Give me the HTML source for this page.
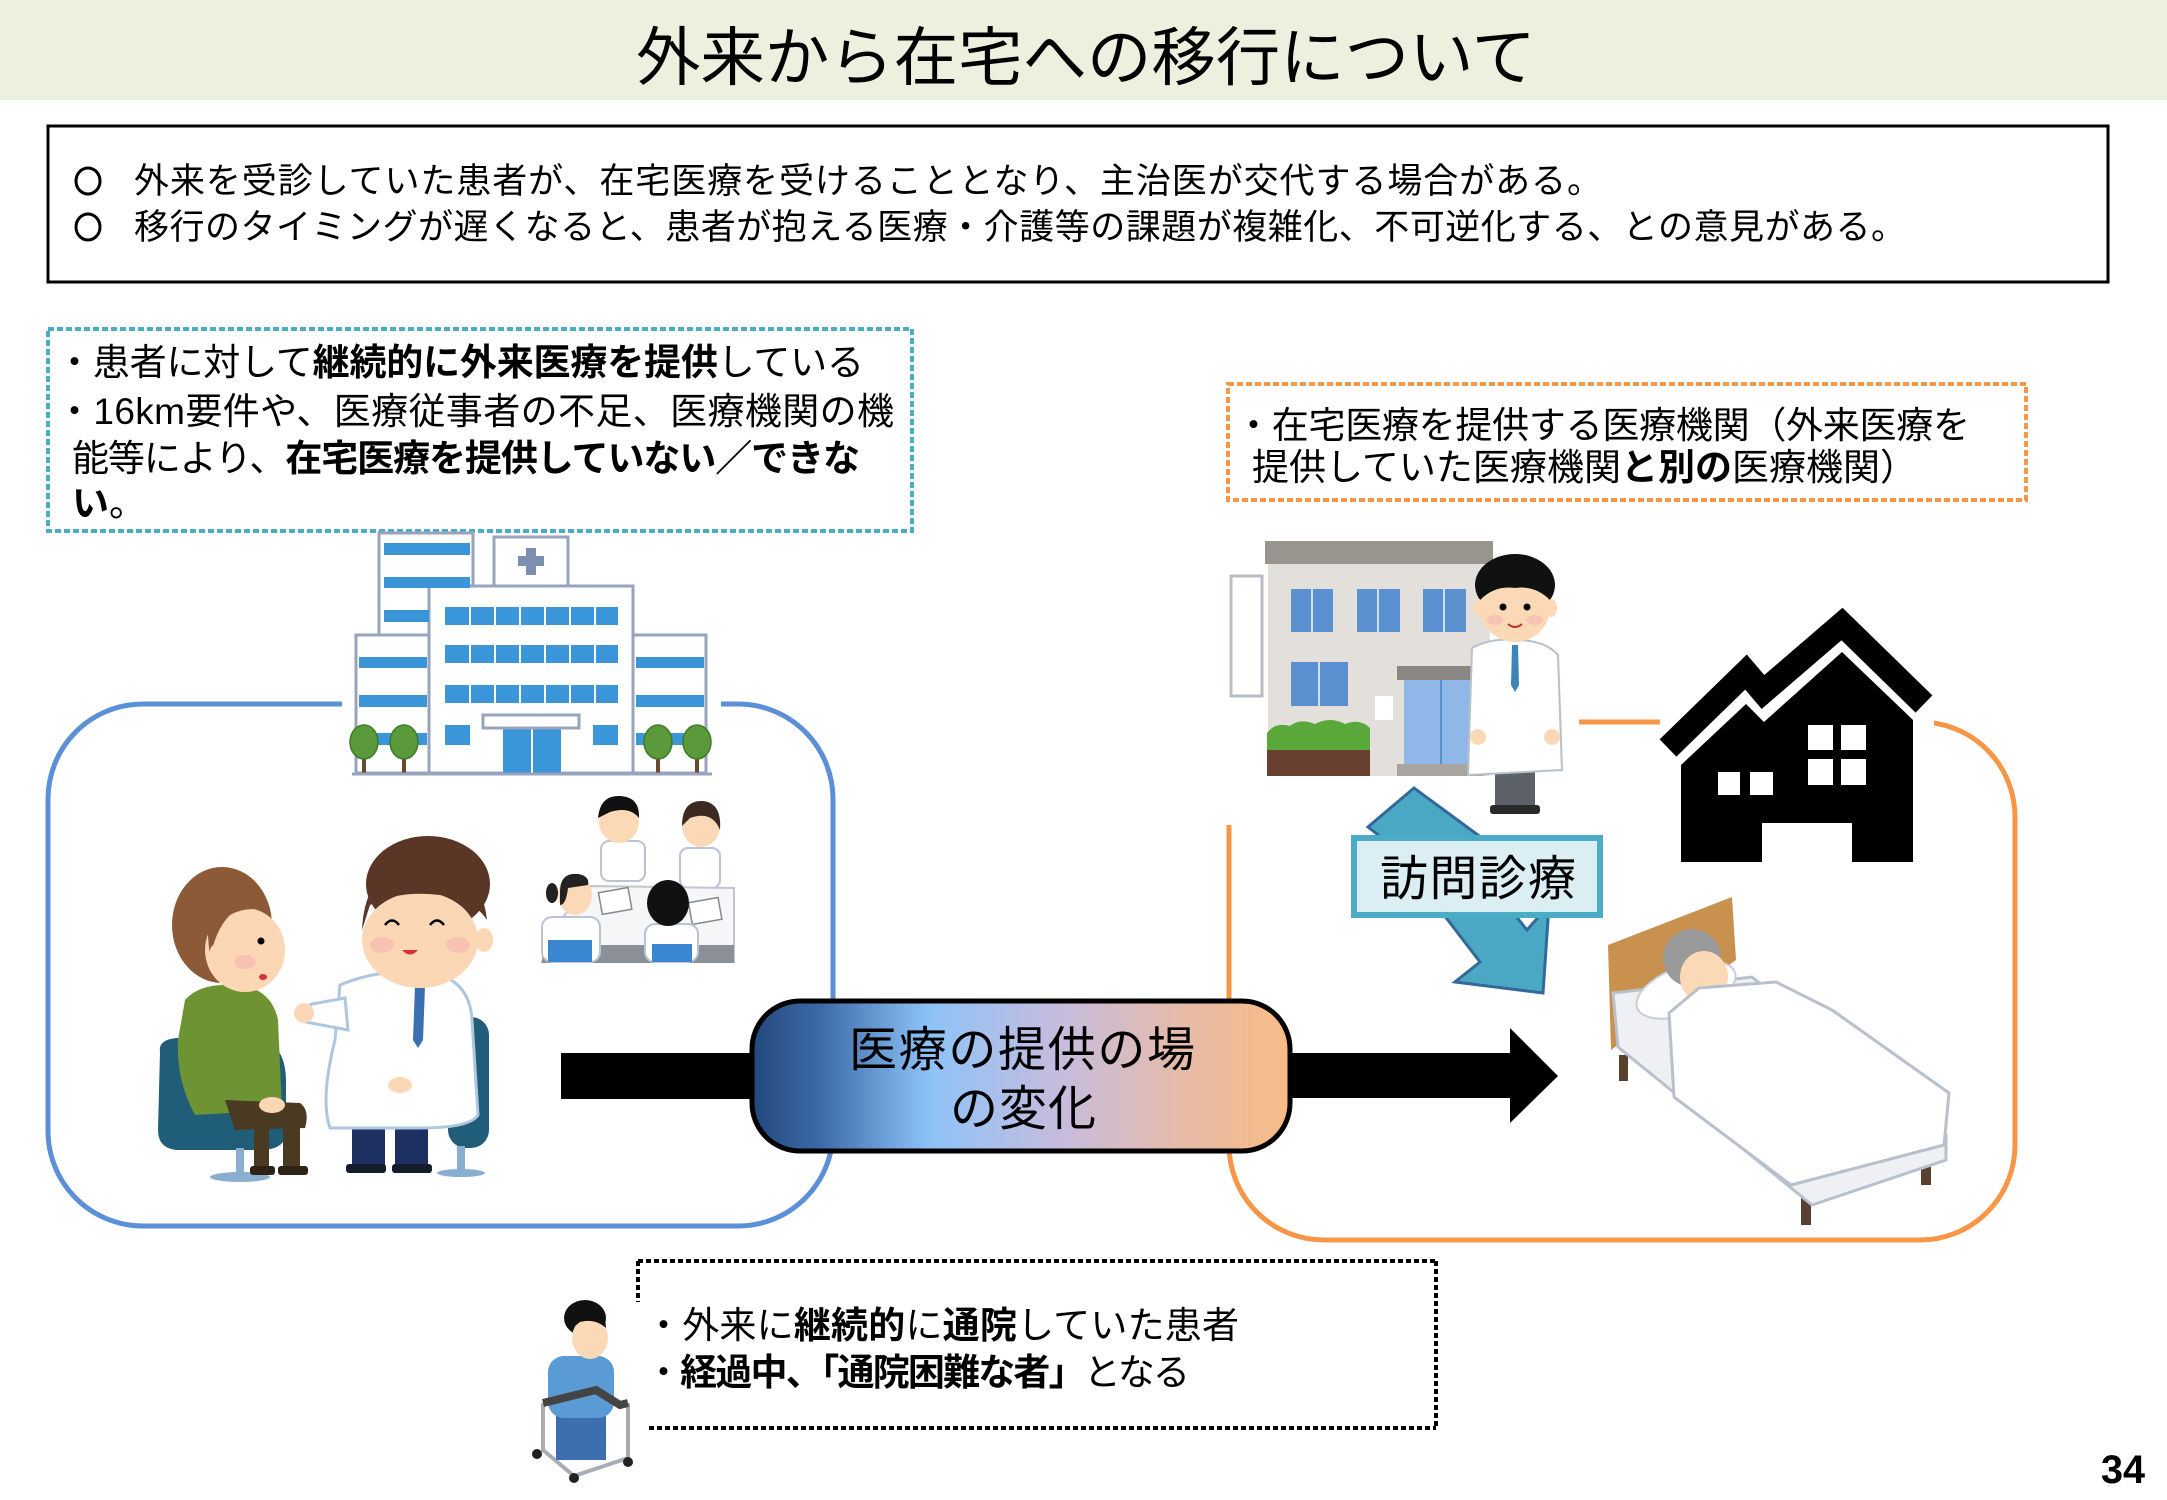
<!DOCTYPE html>
<html><head><meta charset="utf-8">
<style>
html,body{margin:0;padding:0;background:#fff;width:2167px;height:1500px;overflow:hidden;}
svg{display:block;}
text{font-family:"Liberation Sans","Noto Sans CJK JP",sans-serif;fill:#000;}
</style></head><body>
<svg width="2167" height="1500" viewBox="0 0 2167 1500" xmlns="http://www.w3.org/2000/svg">
<defs>
<linearGradient id="g1" x1="0" x2="1" y1="0" y2="0">
<stop offset="0" stop-color="#22487c"/>
<stop offset="0.12" stop-color="#3a68a6"/>
<stop offset="0.33" stop-color="#8ec3f8"/>
<stop offset="0.58" stop-color="#c7bcdc"/>
<stop offset="0.8" stop-color="#e6bba8"/>
<stop offset="1" stop-color="#f8bb85"/>
</linearGradient>
</defs>
<rect width="2167" height="1500" fill="#fff"/>

<!-- Title band -->
<rect x="0" y="0" width="2167" height="100" fill="#ebf1de"/>
<text x="636" y="80" font-size="64" textLength="900" lengthAdjust="spacingAndGlyphs">外来から在宅への移行について</text>

<!-- Top summary box -->
<rect x="48" y="126" width="2060" height="156" fill="#fff" stroke="#000" stroke-width="3"/>
<ellipse cx="88" cy="181" rx="12" ry="13" fill="none" stroke="#000" stroke-width="3"/>
<text x="134" y="193" font-size="35" textLength="1468">外来を受診していた患者が、在宅医療を受けることとなり、主治医が交代する場合がある。</text>
<ellipse cx="88" cy="227" rx="12" ry="13" fill="none" stroke="#000" stroke-width="3"/>
<text x="134" y="239" font-size="35" textLength="1772">移行のタイミングが遅くなると、患者が抱える医療・介護等の課題が複雑化、不可逆化する、との意見がある。</text>

<!-- Left dotted teal box -->
<rect x="48" y="329" width="864" height="202" fill="#fff" stroke="#4bacc6" stroke-width="4" stroke-dasharray="6 3"/>
<text x="56" y="375" font-size="37" textLength="808">・患者に対して<tspan font-weight="bold">継続的に外来医療を提供</tspan>している</text>
<text x="56" y="424" font-size="37" textLength="838">・16km要件や、医療従事者の不足、医療機関の機</text>
<text x="72" y="471" font-size="37" textLength="788">能等により、<tspan font-weight="bold">在宅医療を提供していない／できな</tspan></text>
<text x="72" y="516" font-size="37"><tspan font-weight="bold">い</tspan>。</text>

<!-- Right dotted orange box -->
<rect x="1228" y="384" width="798" height="116" fill="#fff" stroke="#f79646" stroke-width="4" stroke-dasharray="6 3"/>
<text x="1235" y="438" font-size="37" textLength="735">・在宅医療を提供する医療機関（外来医療を</text>
<text x="1252" y="480" font-size="37" textLength="665">提供していた医療機関<tspan font-weight="bold">と別の</tspan>医療機関）</text>

<!-- Blue rounded box -->
<rect x="48" y="704" width="785" height="522" rx="95" ry="95" fill="none" stroke="#5b8fd7" stroke-width="5"/>
<rect x="342" y="690" width="379" height="25" fill="#fff"/>

<!-- Orange rounded box -->
<rect x="1229" y="722" width="786" height="518" rx="95" ry="95" fill="none" stroke="#f79646" stroke-width="5"/>
<rect x="1200" y="700" width="379" height="125" fill="#fff"/>
<rect x="1660" y="700" width="274" height="40" fill="#fff"/>

<!-- Hospital -->
<g stroke="#9aa3bd" stroke-width="3">
<rect x="379" y="533" width="94" height="107" fill="#fff"/>
<rect x="494" y="537" width="74" height="49" fill="#fff"/>
<rect x="356" y="635" width="73" height="138" fill="#fff"/>
<rect x="633" y="635" width="73" height="138" fill="#fff"/>
<rect x="429" y="586" width="204" height="187" fill="#fff"/>
</g>
<g fill="#3a96d8">
<rect x="384" y="543" width="86" height="12"/>
<rect x="384" y="577" width="86" height="11"/>
<rect x="384" y="610" width="45" height="12"/>
<rect x="445" y="607" width="173" height="18"/>
<rect x="445" y="645" width="173" height="18"/>
<rect x="445" y="685" width="173" height="18"/>
<rect x="445" y="725" width="25" height="20"/>
<rect x="593" y="725" width="25" height="20"/>
<rect x="359" y="657" width="68" height="11"/>
<rect x="359" y="695" width="68" height="12"/>
<rect x="359" y="733" width="68" height="12"/>
<rect x="636" y="657" width="68" height="11"/>
<rect x="636" y="695" width="68" height="12"/>
<rect x="636" y="733" width="68" height="12"/>
<rect x="503" y="728" width="58" height="45"/>
</g>
<g stroke="#fff" stroke-width="2">
<line x1="470" y1="607" x2="470" y2="703"/><line x1="495" y1="607" x2="495" y2="703"/><line x1="520" y1="607" x2="520" y2="703"/><line x1="545" y1="607" x2="545" y2="703"/><line x1="570" y1="607" x2="570" y2="703"/><line x1="595" y1="607" x2="595" y2="703"/>
<line x1="532" y1="728" x2="532" y2="773"/>
</g>
<rect x="483" y="715" width="96" height="13" fill="#fff" stroke="#9aa3bd" stroke-width="3"/>
<path d="M526,548 h10 v8 h8 v10 h-8 v9 h-10 v-9 h-8 v-10 h8 z" fill="#7d8fb0"/>
<g fill="#6a4a2a"><rect x="362" y="745" width="4" height="30"/><rect x="402" y="745" width="4" height="30"/><rect x="656" y="745" width="4" height="30"/><rect x="695" y="745" width="4" height="30"/></g>
<g fill="#5a9a3a" stroke="#3f7a28" stroke-width="1.5">
<ellipse cx="364" cy="742" rx="14" ry="17"/><ellipse cx="404" cy="742" rx="14" ry="17"/>
<ellipse cx="658" cy="742" rx="14" ry="17"/><ellipse cx="697" cy="742" rx="14" ry="17"/>
</g>
<line x1="352" y1="774" x2="712" y2="774" stroke="#9aa3bd" stroke-width="3"/>

<!-- Nurses meeting -->
<g>
<rect x="601" y="841" width="44" height="40" rx="8" fill="#fff" stroke="#b8c4d4" stroke-width="2"/>
<rect x="680" y="848" width="40" height="40" rx="8" fill="#fff" stroke="#b8c4d4" stroke-width="2"/>
<ellipse cx="619" cy="822" rx="20" ry="21" fill="#fcd9b6"/>
<path d="M598,818 Q600,795 620,796 Q640,797 639,818 Q630,806 610,812 Z" fill="#111"/>
<ellipse cx="701" cy="826" rx="19" ry="21" fill="#fcd9b6"/>
<path d="M682,826 Q682,800 703,801 Q722,803 720,830 Q712,810 690,818 Z" fill="#3a2a22"/>
<polygon points="591,886 734,888 734,962 542,962 560,920" fill="#f4f6f8" stroke="#c0c6d0" stroke-width="2"/>
<rect x="542" y="945" width="192" height="18" fill="#8a9098"/>
<rect x="600" y="890" width="30" height="22" fill="#fff" stroke="#888" stroke-width="1.5" transform="rotate(-10 615 900)"/>
<rect x="690" y="900" width="30" height="22" fill="#fff" stroke="#888" stroke-width="1.5" transform="rotate(-10 705 910)"/>
<rect x="542" y="917" width="58" height="45" rx="10" fill="#fff" stroke="#b8c4d4" stroke-width="2"/>
<rect x="548" y="940" width="44" height="22" fill="#3a86d0"/>
<ellipse cx="575" cy="895" rx="17" ry="20" fill="#fcd9b6"/>
<path d="M560,892 Q560,872 578,874 Q590,876 588,885 L568,888 Q566,905 560,905 Z" fill="#222"/>
<ellipse cx="552" cy="893" rx="6" ry="10" fill="#222"/>
<rect x="645" y="924" width="53" height="38" rx="10" fill="#fff" stroke="#b8c4d4" stroke-width="2"/>
<rect x="652" y="944" width="40" height="18" fill="#3a86d0"/>
<ellipse cx="668" cy="903" rx="21" ry="23" fill="#111"/>
</g>

<!-- Patient -->
<path d="M160,1052 Q158,1040 176,1038 L262,1040 Q286,1046 286,1082 L286,1134 Q284,1150 260,1150 L176,1150 Q158,1148 158,1130 Z" fill="#1f5d78"/>
<rect x="236" y="1148" width="8" height="27" fill="#8aaed0"/>
<ellipse cx="240" cy="1177" rx="30" ry="5" fill="#8aaed0"/>
<path d="M185,1000 Q200,982 240,985 Q272,990 278,1020 L282,1110 L195,1115 Q176,1080 178,1040 Z" fill="#6e9332"/>
<path d="M225,1100 L300,1103 Q310,1110 305,1128 L235,1130 Z" fill="#4a3a22"/>
<rect x="283" y="1120" width="17" height="48" fill="#4a3a22"/>
<rect x="254" y="1125" width="15" height="45" fill="#4a3a22"/>
<rect x="250" y="1166" width="25" height="9" rx="3" fill="#2e2214"/>
<rect x="278" y="1166" width="30" height="9" rx="3" fill="#2e2214"/>
<ellipse cx="272" cy="1105" rx="13" ry="8" fill="#fcd7b6"/>
<ellipse cx="222" cy="925" rx="50" ry="58" fill="#8d5a37"/>
<ellipse cx="245" cy="950" rx="40" ry="42" fill="#fcd7b6"/>
<path d="M205,900 Q240,880 268,912 Q248,905 230,915 Q215,930 210,960 Z" fill="#8d5a37"/>
<ellipse cx="218" cy="955" rx="9" ry="12" fill="#fcd7b6"/>
<circle cx="261" cy="941" r="3.5" fill="#000"/>
<ellipse cx="263" cy="977" rx="4" ry="3" fill="#d8303a"/>
<ellipse cx="245" cy="962" rx="11" ry="7" fill="#f7b9b0" opacity="0.7"/>

<!-- Doctor -->
<rect x="448" y="1017" width="41" height="131" rx="18" fill="#1f5d78"/>
<rect x="457" y="1146" width="8" height="26" fill="#8aaed0"/>
<ellipse cx="461" cy="1173" rx="24" ry="4" fill="#8aaed0"/>
<rect x="352" y="1122" width="33" height="46" fill="#1e3060"/>
<rect x="395" y="1122" width="33" height="46" fill="#1e3060"/>
<rect x="346" y="1164" width="40" height="9" rx="3" fill="#151c2c"/>
<rect x="392" y="1164" width="40" height="9" rx="3" fill="#151c2c"/>
<path d="M340,985 Q380,968 430,972 Q470,980 472,1020 L478,1115 Q470,1128 420,1128 L330,1128 Q320,1100 335,1040 Z" fill="#fff" stroke="#aec6e0" stroke-width="3"/>
<path d="M345,998 L312,1004 Q300,1010 306,1022 L348,1030 Z" fill="#fff" stroke="#aec6e0" stroke-width="3"/>
<circle cx="304" cy="1013" r="10" fill="#fcd7b6"/>
<ellipse cx="400" cy="1085" rx="12" ry="8" fill="#fcd7b6"/>
<polygon points="415,986 425,986 423,1040 418,1048 413,1040" fill="#3a6fb0"/>
<ellipse cx="428" cy="884" rx="62" ry="48" fill="#5a3626"/>
<ellipse cx="484" cy="940" rx="9" ry="12" fill="#fcd7b6"/>
<ellipse cx="420" cy="940" rx="58" ry="48" fill="#fcd7b6"/>
<path d="M362,930 Q365,860 430,858 Q480,860 487,920 Q470,895 440,895 Q400,890 370,905 Z" fill="#5a3626"/>
<path d="M385,925 q7,-9 14,0 M430,925 q7,-9 14,0" stroke="#000" stroke-width="2.5" fill="none"/>
<path d="M402,950 q8,9 16,0 z" fill="#d8303a"/>
<ellipse cx="382" cy="945" rx="12" ry="8" fill="#f7b9b0" opacity="0.7"/>
<ellipse cx="458" cy="945" rx="12" ry="8" fill="#f7b9b0" opacity="0.7"/>

<!-- Clinic -->
<rect x="1231" y="576" width="31" height="120" fill="#fff" stroke="#b8bcc4" stroke-width="3"/>
<rect x="1268" y="560" width="222" height="216" fill="#e3e0db"/>
<rect x="1265" y="541" width="228" height="23" fill="#9a948e"/>
<g fill="#5a8fd0">
<rect x="1291" y="589" width="42" height="43"/><rect x="1357" y="589" width="43" height="43"/><rect x="1423" y="589" width="43" height="43"/>
<rect x="1291" y="662" width="57" height="44"/>
</g>
<g stroke="#cfe0f4" stroke-width="2"><line x1="1312" y1="589" x2="1312" y2="632"/><line x1="1378" y1="589" x2="1378" y2="632"/><line x1="1444" y1="589" x2="1444" y2="632"/><line x1="1319" y1="662" x2="1319" y2="706"/></g>
<rect x="1375" y="696" width="18" height="24" fill="#fff"/>
<rect x="1397" y="666" width="87" height="14" fill="#8a8682"/>
<rect x="1404" y="680" width="74" height="84" fill="#8fb8e8"/>
<line x1="1441" y1="680" x2="1441" y2="764" stroke="#5a8fd0" stroke-width="2"/>
<rect x="1397" y="764" width="87" height="12" fill="#a8a4a0"/>
<path d="M1267,750 L1267,733 Q1275,722 1290,726 Q1300,718 1315,724 Q1330,716 1345,724 Q1360,718 1370,728 L1370,750 Z" fill="#5aa83a"/>
<rect x="1267" y="750" width="103" height="26" fill="#6a4030"/>

<!-- Right doctor -->
<rect x="1495" y="768" width="40" height="40" fill="#5c6168"/>
<rect x="1490" y="805" width="50" height="9" rx="3" fill="#2a2a2a"/>
<path d="M1472,648 Q1490,638 1515,640 Q1545,640 1558,655 L1562,770 L1468,775 Z" fill="#fff" stroke="#b8c0c8" stroke-width="2"/>
<polygon points="1512,645 1518,645 1519,685 1515,692 1511,685" fill="#3a86b8"/>
<circle cx="1478" cy="737" r="8" fill="#fcd9b6"/>
<circle cx="1552" cy="737" r="8" fill="#fcd9b6"/>
<ellipse cx="1515" cy="585" rx="40" ry="31" fill="#111"/>
<ellipse cx="1479" cy="608" rx="6" ry="9" fill="#fcd9b6"/>
<ellipse cx="1551" cy="608" rx="6" ry="9" fill="#fcd9b6"/>
<ellipse cx="1515" cy="608" rx="35" ry="34" fill="#fcd9b6"/>
<path d="M1480,600 Q1482,568 1515,568 Q1548,568 1550,600 Q1535,585 1515,588 Q1495,585 1480,600 Z" fill="#111"/>
<circle cx="1503" cy="607" r="3.5" fill="#000"/>
<circle cx="1527" cy="607" r="3.5" fill="#000"/>
<path d="M1508,624 q7,6 14,0" stroke="#c03030" stroke-width="2" fill="none"/>
<ellipse cx="1495" cy="620" rx="8" ry="5" fill="#f7b9b0" opacity="0.7"/>
<ellipse cx="1535" cy="620" rx="8" ry="5" fill="#f7b9b0" opacity="0.7"/>

<!-- House silhouette -->
<polyline points="1668,748 1746,672 1763,692 1842,624 1924,704" fill="none" stroke="#000" stroke-width="24" stroke-linejoin="miter"/>
<polygon points="1681,862 1681,765 1746,704 1764,722 1842,652 1913,720 1913,862" fill="#000"/>
<g fill="#fff">
<rect x="1808" y="725" width="25" height="25"/><rect x="1841" y="725" width="25" height="25"/>
<rect x="1808" y="759" width="25" height="26"/><rect x="1841" y="759" width="25" height="26"/>
<rect x="1718" y="772" width="22" height="23"/><rect x="1750" y="772" width="23" height="23"/>
<rect x="1762" y="823" width="90" height="40"/>
</g>

<!-- Diagonal double arrow (訪問診療) -->
<polygon points="1414,788 1368,827 1382,838 1444,915 1480,962 1455,982 1543,993 1549,905 1527,930 1465,852 1478,835" fill="#4aa8c4" stroke="#33689a" stroke-width="3" stroke-linejoin="miter"/>
<rect x="1354" y="838" width="246" height="77" fill="#dbeef3" stroke="#4bacc6" stroke-width="6"/>
<text x="1380" y="895" font-size="48" textLength="196">訪問診療</text>

<!-- Bed -->
<g fill="#5a4030">
<rect x="1619" y="1055" width="9" height="26"/>
<rect x="1801" y="1195" width="10" height="30"/>
<rect x="1921" y="1155" width="10" height="30"/>
</g>
<polygon points="1608,945 1732,897 1736,960 1611,1050" fill="#c9914e"/>
<polygon points="1613,993 1618,1047 1812,1205 1946,1160 1946,1135 1752,977" fill="#eef0f4" stroke="#b8c0cc" stroke-width="3"/>
<ellipse cx="1686" cy="990" rx="52" ry="24" fill="#fff" stroke="#c8ced8" stroke-width="2" transform="rotate(-20 1686 990)"/>
<circle cx="1692" cy="958" r="29" fill="#9a9a9a"/>
<ellipse cx="1704" cy="977" rx="24" ry="26" fill="#fcd9b6"/>
<polygon points="1669,1013 1674,1097 1791,1185 1944,1145 1949,1093 1832,1010 1776,982 1699,988" fill="#fff" stroke="#b8c0cc" stroke-width="3" stroke-linejoin="round"/>

<!-- Black arrows and central box -->
<rect x="561" y="1053" width="195" height="46" fill="#000"/>
<rect x="1285" y="1053" width="227" height="45" fill="#000"/>
<polygon points="1510,1028 1558,1076 1510,1123" fill="#000"/>
<rect x="752" y="1001" width="538" height="150" rx="48" ry="48" fill="url(#g1)" stroke="#000" stroke-width="5"/>
<text x="849" y="1066" font-size="48" textLength="346">医療の提供の場</text>
<text x="950" y="1125" font-size="48" textLength="146">の変化</text>

<!-- Bottom dotted box -->
<g fill="none" stroke="#000" stroke-width="4" stroke-dasharray="5 3">
<line x1="638" y1="1261" x2="1436" y2="1261"/>
<line x1="1436" y1="1261" x2="1436" y2="1428"/>
<line x1="649" y1="1428" x2="1436" y2="1428"/>
<line x1="638" y1="1261" x2="638" y2="1302"/>
</g>
<text x="645" y="1338" font-size="37" textLength="594">・外来に<tspan font-weight="bold">継続的</tspan>に<tspan font-weight="bold">通院</tspan>していた患者</text>
<text x="645" y="1385" font-size="37" textLength="545">・<tspan font-weight="bold">経過中、「通院困難な者」</tspan>となる</text>

<!-- Walking person -->
<g>
<line x1="543" y1="1403" x2="543" y2="1452" stroke="#a8acb4" stroke-width="4"/>
<line x1="628" y1="1403" x2="628" y2="1460" stroke="#a8acb4" stroke-width="4"/>
<line x1="543" y1="1450" x2="574" y2="1476" stroke="#a8acb4" stroke-width="4"/>
<line x1="628" y1="1458" x2="574" y2="1476" stroke="#a8acb4" stroke-width="4"/>
<rect x="556" y="1413" width="50" height="47" fill="#3d6fb0"/>
<rect x="548" y="1356" width="66" height="62" rx="16" fill="#5b9bd5"/>
<path d="M543,1403 L596,1390 L620,1405 L628,1403" stroke="#444" stroke-width="8" fill="none"/>
<ellipse cx="585" cy="1318" rx="21" ry="18" fill="#111"/>
<ellipse cx="590" cy="1338" rx="18" ry="21" fill="#fcd9b6"/>
<path d="M570,1330 Q572,1308 590,1310 Q606,1312 606,1328 Q595,1318 580,1322 Z" fill="#111"/>
<circle cx="537" cy="1454" r="5" fill="#222"/>
<circle cx="628" cy="1462" r="5" fill="#222"/>
<circle cx="574" cy="1478" r="5" fill="#222"/>
</g>

<!-- Page number -->
<text x="2101" y="1483" font-size="40" font-weight="bold" textLength="44" lengthAdjust="spacingAndGlyphs">34</text>
</svg>
</body></html>
